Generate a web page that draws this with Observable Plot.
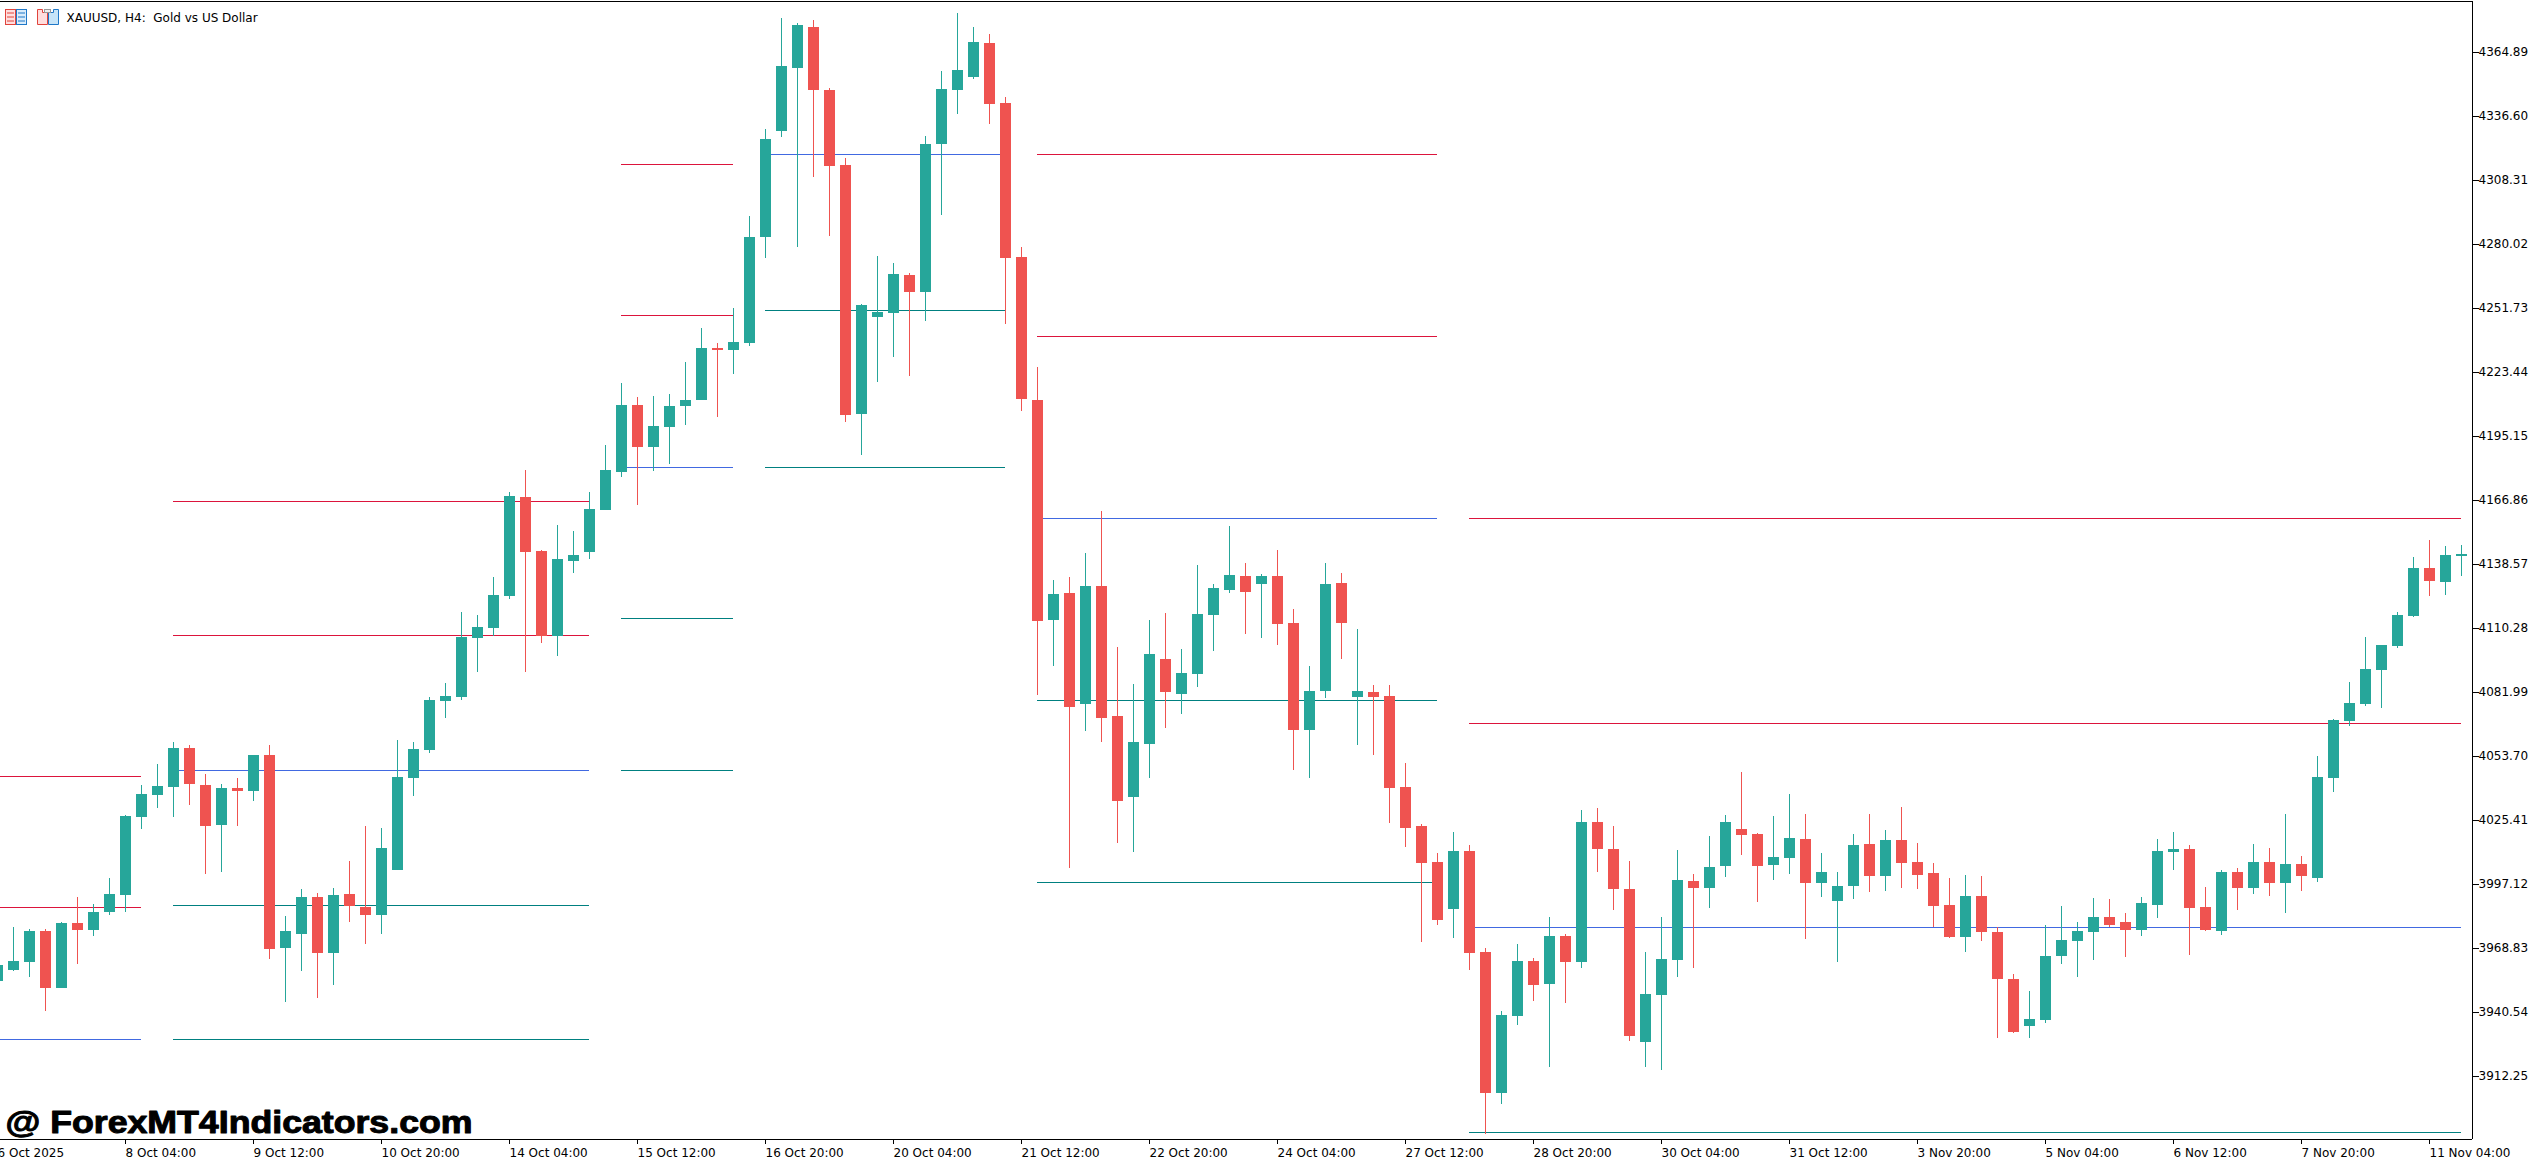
<!DOCTYPE html>
<html>
<head>
<meta charset="utf-8">
<script src="https://cdn.jsdelivr.net/npm/d3@7"></script>
<script src="https://cdn.jsdelivr.net/npm/@observablehq/plot@0.6"></script>
<style>
html,body{margin:0;padding:0;background:#fff;}
#wrap{position:relative;width:2536px;height:1165px;overflow:hidden;}
#wrap svg.plot{display:block;}
#icons{position:absolute;left:0;top:0;}
text.ttl{white-space:pre;}
</style>
</head>
<body>
<div id="wrap"></div>
<script>
const high = [3962.2,3978.1,3977.2,3977.2,3980.3,3991.4,3988.3,3999.8,4027.6,4040.9,
4050.2,4059.9,4058.6,4045.7,4041.3,4044.0,4054.1,4058.6,3983.0,3994.9,
3993.1,3995.4,4007.3,4022.8,4021.9,4060.8,4059.9,4079.8,4086.0,4117.4,
4116.0,4132.8,4170.4,4180.1,4144.8,4155.8,4153.2,4170.4,4191.2,4218.6,
4212.4,4212.8,4213.7,4227.9,4242.9,4236.3,4251.7,4292.4,4330.9,4379.9,
4377.7,4379.0,4349.0,4318.0,4253.5,4274.7,4271.6,4267.2,4327.8,4356.5,
4382.1,4375.9,4372.9,4345.0,4278.7,4225.7,4131.5,4132.8,4143.4,4162.0,
4101.9,4085.5,4113.8,4116.9,4101.0,4138.1,4129.7,4155.4,4139.0,4134.2,
4144.8,4118.7,4093.5,4139.0,4134.6,4109.8,4085.1,4085.1,4050.6,4023.7,
4010.8,4020.1,4014.4,3968.8,3941.0,3970.6,3964.4,3982.5,3975.0,4029.8,
4030.7,4022.8,4007.3,3967.1,3982.5,4012.2,4001.5,4018.3,4027.6,4046.6,
4019.7,4027.2,4036.9,4028.1,4010.8,4002.4,4019.2,4028.1,4021.0,4031.2,
4015.2,4006.4,3999.8,4001.1,4000.7,3978.1,3957.3,3949.8,3979.0,3987.4,
3980.3,3990.9,3990.5,3984.3,3991.4,4017.0,4020.1,4014.4,3995.8,4003.3,
4004.2,4014.8,4013.0,4028.1,4009.5,4053.7,4070.1,4086.4,4106.3,4102.8,
4117.4,4141.7,4149.2,4146.5,4147.0];
const low = [3953.4,3958.7,3956.0,3941.0,3951.1,3961.8,3974.1,3983.4,3984.7,4021.4,
4030.7,4026.7,4032.0,4001.5,4002.4,4022.8,4033.8,3964.0,3945.0,3958.7,
3946.7,3952.5,3980.3,3970.6,3975.0,4003.3,4036.0,4055.0,4070.5,4078.5,
4090.8,4106.8,4123.1,4090.8,4103.7,4097.9,4134.6,4140.8,4162.4,4177.0,
4164.6,4179.7,4182.8,4200.0,4211.1,4203.6,4222.6,4234.9,4273.8,4327.3,
4278.7,4309.6,4283.6,4201.3,4186.8,4219.0,4230.1,4221.7,4246.0,4292.8,
4337.5,4353.0,4333.1,4244.7,4206.2,4080.7,4093.5,4004.2,4064.8,4059.9,
4015.2,4011.3,4044.0,4066.1,4072.3,4084.2,4100.1,4125.8,4107.6,4105.9,
4102.8,4047.5,4044.0,4079.3,4096.6,4058.6,4054.1,4024.1,4013.5,3971.5,
3979.0,3973.3,3959.1,3886.6,3899.9,3934.8,3945.4,3916.2,3944.5,3960.0,
4002.4,3985.6,3927.7,3916.2,3914.9,3956.0,3960.0,3986.5,4000.2,4009.9,
3989.2,3998.9,4001.5,3972.8,3991.4,3962.6,3990.5,3993.6,3994.0,3995.4,
3994.9,3978.1,3973.3,3967.1,3971.9,3929.0,3931.3,3929.0,3935.7,3961.8,
3956.0,3963.5,3978.1,3964.9,3974.1,3982.1,4003.3,3965.7,3976.4,3974.6,
3985.6,3992.7,3991.8,3984.3,3994.0,3998.0,4037.8,4067.0,4075.8,4074.9,
4101.4,4115.1,4124.4,4124.9,4133.3];
const open = [3954.2,3959.1,3962.6,3976.4,3951.1,3979.9,3976.8,3984.7,3992.3,4026.7,
4036.5,4040.0,4057.2,4040.9,4023.2,4039.6,4038.2,4054.1,3968.8,3975.0,
3991.4,3966.6,3992.7,3987.0,3983.4,4003.3,4044.0,4056.4,4078.0,4079.8,
4105.9,4110.3,4124.4,4168.2,4144.3,4106.8,4139.9,4143.9,4162.4,4179.2,
4208.9,4190.3,4199.1,4208.4,4211.1,4234.0,4233.2,4236.3,4283.1,4330.0,
4357.8,4375.9,4348.1,4314.9,4204.9,4247.8,4249.5,4266.3,4258.8,4324.2,
4348.1,4353.8,4368.9,4342.4,4274.3,4211.1,4113.8,4125.8,4076.7,4128.8,
4071.4,4035.6,4059.0,4096.6,4081.1,4089.9,4116.0,4127.1,4133.3,4129.7,
4133.3,4112.5,4065.2,4082.4,4130.2,4079.8,4082.0,4080.2,4040.0,4022.8,
4006.9,3986.1,4011.7,3967.1,3904.7,3938.8,3963.1,3952.9,3974.1,3962.6,
4024.5,4012.6,3994.9,3927.3,3948.1,3963.5,3998.5,3995.4,4005.1,4021.4,
4019.2,4005.5,4008.6,4017.0,3997.6,3989.6,3996.2,4014.8,4000.7,4016.6,
4006.9,4002.0,3987.8,3973.7,3991.8,3975.9,3955.1,3934.4,3937.0,3965.3,
3971.9,3975.9,3982.5,3980.3,3976.8,3987.8,4011.3,4012.6,3987.0,3976.4,
4002.4,3995.4,4006.9,3997.6,4006.0,3999.8,4044.0,4069.2,4076.7,4091.7,
4102.3,4115.6,4136.8,4130.6,4142.1];
const close = [3961.3,3963.1,3976.4,3951.1,3979.9,3976.8,3984.7,3992.7,4027.2,4036.9,
4040.4,4057.2,4041.3,4022.8,4039.6,4038.2,4054.1,3968.4,3976.4,3991.4,
3966.6,3992.3,3987.4,3983.4,4013.0,4044.4,4056.8,4078.5,4080.2,4106.3,
4110.7,4124.9,4168.6,4143.9,4106.8,4140.8,4142.6,4162.9,4180.1,4208.9,
4190.3,4199.6,4208.4,4211.1,4234.0,4233.2,4236.7,4283.1,4326.4,4358.7,
4376.8,4348.1,4314.5,4204.4,4253.1,4250.0,4266.8,4258.8,4324.2,4348.5,
4356.9,4369.3,4341.9,4273.8,4211.5,4113.4,4125.3,4075.4,4128.8,4070.5,
4033.8,4059.9,4098.8,4082.0,4090.4,4116.5,4128.0,4133.7,4126.2,4133.3,
4112.1,4065.2,4082.4,4129.7,4112.5,4082.4,4079.8,4039.6,4021.9,4006.4,
3981.2,4011.7,3966.6,3904.7,3939.2,3963.1,3952.5,3974.1,3962.6,4024.5,
4012.6,3994.9,3929.9,3948.5,3964.0,3998.9,3995.4,4004.6,4024.5,4018.8,
4005.1,4009.1,4017.5,3997.6,4002.4,3996.2,4014.4,4000.7,4016.6,4006.4,
4001.1,3987.4,3973.7,3991.8,3975.9,3955.1,3931.7,3937.4,3965.3,3972.4,
3976.4,3982.5,3979.0,3976.8,3988.7,4011.7,4012.6,3986.5,3976.8,4002.4,
3995.4,4006.9,3997.6,4006.0,4000.7,4044.4,4069.6,4077.1,4092.2,4102.8,
4116.0,4136.8,4131.1,4142.6,4143.0];

const segStart = [0,0,0, 11,11,11,11,11, 39,39,39,39,39, 48,48,48, 65,65,65,65,65, 92,92,92,92];
const segEnd   = [9,9,9, 37,37,37,37,37, 46,46,46,46,46, 63,63,63, 90,90,90,90,90, 154,154,154,154];
const segLevel = [4044.9,3987.0,3928.6, 4166.4,4107.2,4047.5,3987.8,3928.6, 4315.4,4248.6,4181.4,4114.7,4047.5, 4319.8,4250.9,4181.4, 4319.8,4239.4,4158.9,4078.5,3998.0, 4158.9,4068.3,3978.1,3887.5];
const segKind  = ["r","r","b", "r","r","b","t","t", "r","r","b","t","t", "b","t","t", "r","r","b","t","t", "r","r","b","t"];

const yTicks = [4364.89,4336.60,4308.31,4280.02,4251.73,4223.44,4195.15,4166.86,4138.57,4110.28,4081.99,4053.70,4025.41,3997.12,3968.83,3940.54,3912.25];
const xTickIndex = [0,8,16,24,32,40,48,56,64,72,80,88,96,104,112,120,128,136,144,152];
const xTickLabels = ["6 Oct 2025","8 Oct 04:00","9 Oct 12:00","10 Oct 20:00","14 Oct 04:00","15 Oct 12:00","16 Oct 20:00","20 Oct 04:00","21 Oct 12:00","22 Oct 20:00","24 Oct 04:00","27 Oct 12:00","28 Oct 20:00","30 Oct 04:00","31 Oct 12:00","3 Nov 20:00","5 Nov 04:00","6 Nov 12:00","7 Nov 20:00","11 Nov 04:00"];

const chartTitle = "XAUUSD, H4:  Gold vs US Dollar";
const watermark = "@ ForexMT4Indicators.com";
const upColor = "#26A69A", downColor = "#EF5350";
const kindColor = {r:"#DC143C", b:"#4169E1", t:"#008080"};

const idx = d3.range(high.length);
const ups = idx.filter(i => close[i] >= open[i]);
const downs = idx.filter(i => close[i] < open[i]);
const segs = d3.range(segLevel.length);

const xDomain = [0.1875, 154.6875];
const yDomain = [3884.41, 4387.44];

const wick = (data, color) => Plot.ruleX(data, {x: i => i, y1: i => low[i], y2: i => high[i], stroke: color, strokeWidth: 1, shapeRendering: "crispEdges"});
const body = (data, color) => Plot.ruleX(data, {x: i => i, y1: i => open[i], y2: i => close[i], stroke: color, strokeWidth: 11, shapeRendering: "crispEdges"});

const chart = Plot.plot({
  width: 2536, height: 1165,
  marginLeft: 0, marginRight: 64, marginTop: 1, marginBottom: 26,
  style: {fontFamily: "DejaVu Sans", fontSize: "12px", background: "#fff", color: "#000"},
  x: {type: "linear", domain: xDomain, axis: null},
  y: {type: "linear", domain: yDomain, axis: null},
  marks: [
    Plot.ruleY(segs, {
      y: i => segLevel[i],
      x1: i => segStart[i], x2: i => segEnd[i],
      stroke: i => kindColor[segKind[i]], strokeWidth: 1, shapeRendering: "crispEdges"
    }),
    wick(ups, upColor), wick(downs, downColor),
    body(ups, upColor), body(downs, downColor),
    Plot.ruleX([xDomain[1]], {stroke: "#000", strokeWidth: 1, shapeRendering: "crispEdges"}),
    Plot.ruleY([yDomain[0], yDomain[1]], {stroke: "#000", strokeWidth: 1, shapeRendering: "crispEdges"}),
    Plot.axisY(yTicks, {anchor: "right", tickSize: 6, tickPadding: 0, label: null, tickFormat: d => d.toFixed(2), stroke: "#000", fill: "#000"}),
    Plot.axisX(xTickIndex, {anchor: "bottom", tickSize: 5, tickPadding: 4, label: null, textAnchor: "start", tickFormat: i => xTickLabels[xTickIndex.indexOf(i)], stroke: "#000", fill: "#000"}),
    Plot.text([chartTitle], {frameAnchor: "top-left", dx: 66, dy: 17, text: d => d, textAnchor: "start", lineAnchor: "middle", fill: "#000", fontSize: 12, className: "ttl"}),
    Plot.text([watermark], {frameAnchor: "bottom-left", dx: 5, dy: -7, text: d => d, textAnchor: "start", lineAnchor: "bottom", fill: "#000", stroke: "#000", strokeWidth: 1, fontFamily: "Liberation Sans", fontWeight: "bold", fontSize: 31})
  ]
});
document.getElementById("wrap").appendChild(chart);
for (const t of chart.querySelectorAll("text")) {
  if (t.textContent === watermark) {
    t.setAttribute("textLength", "467");
    t.setAttribute("lengthAdjust", "spacingAndGlyphs");
  }
}
document.getElementById("wrap").insertAdjacentHTML("beforeend", `
<svg id="icons" width="70" height="30" viewBox="0 0 70 30">
  <rect x="5.5" y="9.5" width="10" height="15" fill="#fdd" stroke="#e0443c"/>
  <rect x="16.5" y="9.5" width="10" height="15" fill="#d9ecfb" stroke="#1f78c8"/>
  <path d="M7 13h7M7 17h7M7 21h7" stroke="#e0443c"/>
  <path d="M18 13h7M18 17h7M18 21h7" stroke="#1f78c8"/>
  <path d="M37.5 9.5h5v3h5v12h-10z" fill="#fdd" stroke="#e0443c"/>
  <path d="M53.5 9.5h5v15h-10v-12h5z" fill="#c6e4f8" stroke="#1f78c8"/>
  <rect x="44.5" y="9.5" width="6" height="3" fill="#eee" stroke="#999"/>
</svg>`);
</script>
</body>
</html>
